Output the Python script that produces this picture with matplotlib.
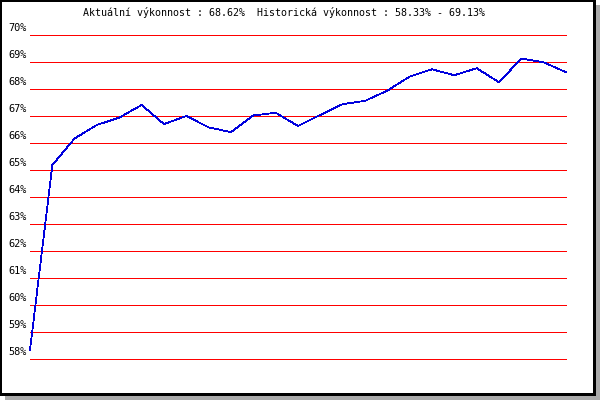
import matplotlib.pyplot as plt
from matplotlib.patches import Rectangle

# hodnoty výkonnosti (v %)
values = [58.33, 65.18, 66.17, 66.67, 66.94, 67.41, 66.70, 67.00, 66.58, 66.40,
          67.02, 67.12, 66.63, 67.04, 67.44, 67.56, 67.94, 68.46, 68.73, 68.51,
          68.77, 68.25, 69.13, 68.99, 68.62]
y_ticks = list(range(58, 71))
y_labels = ['%d%%' % t for t in y_ticks]
title = 'Aktuální výkonnost : 68.62%  Historická výkonnost : 58.33% - 69.13%'

W, H = 600, 400
fig = plt.figure(figsize=(6, 4), dpi=100)

# rámeček se stínem (souřadnice v pixelech shora)
def px_rect(x0, y0, x1, y1, color, z):
    fig.patches.append(Rectangle((x0 / W, 1 - y1 / H), (x1 - x0) / W, (y1 - y0) / H,
                                 transform=fig.transFigure, facecolor=color,
                                 edgecolor='none', zorder=z))

px_rect(5, 5, 600, 400, '#aaaaaa', -3)
px_rect(0, 0, 596, 395.5, 'black', -2)
px_rect(2, 2, 593, 393, 'white', -1)

# oblast grafu
left, right, top, bottom = 30, 566, 35, 359
ax = fig.add_axes([left / W, 1 - bottom / H, (right - left) / W, (bottom - top) / H])
ax.set_zorder(1)
ax.set_facecolor('none')
ax.set_xlim(0, len(values) - 1)
ax.set_ylim(58, 70)
for s in ax.spines.values():
    s.set_visible(False)
ax.set_xticks([])
ax.set_yticks([])

for t, lab in zip(y_ticks, y_labels):
    ax.axhline(t, color='red', lw=0.72, antialiased=False, clip_on=False)
    ax.annotate(lab, xy=(0, t), xycoords=('axes fraction', 'data'),
                xytext=(-22, 2), textcoords='offset pixels',
                ha='left', va='bottom', fontsize=7.4, family='DejaVu Sans Mono',
                annotation_clip=False)

ax.plot(range(len(values)), values, color='#0000dd', lw=0.55, antialiased=False,
        clip_on=False)

fig.text(284 / W, 1 - 13 / H, title, ha='center', va='center',
         fontsize=7.2, family='DejaVu Sans Mono')

fig.savefig('out.png', dpi=100)
